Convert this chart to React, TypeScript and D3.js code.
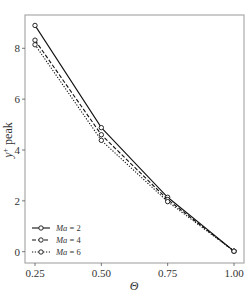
import React from "react";
import * as d3 from "d3";

const theta = [0.25, 0.5, 0.75, 1.0];
const ma2 = [8.9, 4.88, 2.14, 0.02];
const ma4 = [8.32, 4.6, 2.05, 0.02];
const ma6 = [8.14, 4.38, 1.97, 0.02];
const seriesValues = ["2", "4", "6"];
const xTicks = [0.25, 0.5, 0.75, 1.0];
const yTicks = [0, 2, 4, 6, 8];

const W = 249, H = 299;
const L = 25, T = 15, R = 244, B = 263;
const font = "'Liberation Serif', 'DejaVu Serif', serif";

export default function App() {
  const x = d3.scaleLinear().domain([0.25, 1.0]).range([35, 234]);
  const y = d3.scaleLinear().domain([0, 8]).range([251.7, 48.3]);
  const line = d3.line<number>().x((_, i) => x(theta[i])).y((d) => y(d));
  const series = [ma2, ma4, ma6];
  const dashes = ["", "4,2", "1.2,1.6"];
  return (
    <svg width={W} height={H} style={{ position: "absolute", left: 0, top: 0, background: "#fff" }}>
      <rect x={L} y={T} width={R - L} height={B - T} fill="none" stroke="#aaa" strokeWidth={1.2} />
      {yTicks.map((t) => (
        <g key={"y" + t}>
          <line x1={L - 3} x2={L} y1={y(t)} y2={y(t)} stroke="#555" strokeWidth={0.8} />
          <text x={L - 5} y={y(t) + 3.8} textAnchor="end" fontFamily={font} fontSize={11} fill="#333">{t}</text>
        </g>
      ))}
      {xTicks.map((t) => (
        <g key={"x" + t}>
          <line x1={x(t)} x2={x(t)} y1={B} y2={B + 3} stroke="#555" strokeWidth={0.8} />
          <text x={x(t)} y={B + 14} textAnchor="middle" fontFamily={font} fontSize={11} fill="#333">{t.toFixed(2)}</text>
        </g>
      ))}
      <text x={134} y={290} textAnchor="middle" fontFamily={font} fontSize={12} fontStyle="italic" fill="#333">Θ</text>
      <text transform={`translate(12,${140}) rotate(-90)`} textAnchor="middle" fontFamily={font} fontSize={12} fill="#333">
        <tspan fontStyle="italic">y</tspan><tspan dy={-4} fontSize={8}>+</tspan><tspan dy={4}> peak</tspan>
      </text>
      {series.map((s, k) => (
        <g key={"s" + k}>
          <path d={line(s) || ""} fill="none" stroke="#111" strokeWidth={1.1} strokeDasharray={dashes[k]} />
          {s.map((v, i) => (
            <circle key={i} cx={x(theta[i])} cy={y(v)} r={2.2} fill="#fff" stroke="#111" strokeWidth={0.9} />
          ))}
        </g>
      ))}
      {seriesValues.map((n, k) => {
        const ly = 228 + k * 12;
        return (
          <g key={"l" + k}>
            <line x1={32} x2={50} y1={ly} y2={ly} stroke="#111" strokeWidth={1.1} strokeDasharray={dashes[k]} />
            <circle cx={41} cy={ly} r={2.2} fill="#fff" stroke="#111" strokeWidth={0.9} />
            <text x={56} y={ly + 3} fontFamily={font} fontSize={8.5} fill="#333">
              <tspan fontStyle="italic">Ma</tspan> = {n}
            </text>
          </g>
        );
      })}
    </svg>
  );
}
